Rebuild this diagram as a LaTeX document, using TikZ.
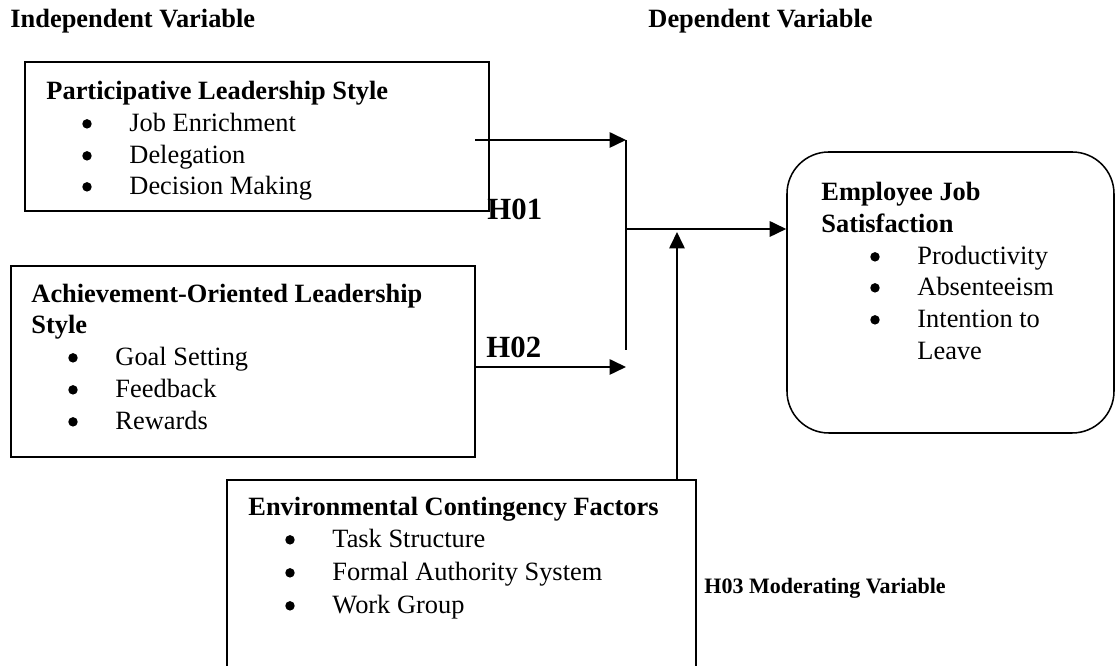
\documentclass[tikz,border=0pt]{standalone}
\usepackage{fontspec}
\setmainfont{Liberation Serif}
\usetikzlibrary{arrows.meta,fit}
\begin{document}
\begin{tikzpicture}[x=0.4545pt,y=-0.4545pt,
  font=\fontsize{12}{14}\selectfont,
  box/.style={draw, line width=0.7pt, inner sep=0pt},
  rbox/.style={box, rounded corners=19pt},
  txt/.style={anchor=base west, inner sep=0pt},
  hd/.style={txt, font=\fontsize{12}{14}\selectfont\bfseries},
  bul/.style={circle, fill, inner sep=0pt, minimum size=4.3pt, yshift=3.7pt},
  hyp/.style={txt, font=\fontsize{14}{16}\selectfont\bfseries},
  conn/.style={line width=0.9pt},
  arr/.style={conn, -{Triangle[length=7.5pt,width=7pt]}}]
\useasboundingbox (0,0) rectangle (1116,666);

% column titles
\node[hd] (indep) at (10,28) {Independent Variable};
\node[hd] (dep) at (648,28) {Dependent Variable};

% boxes
\node[box, fit={(25,62) (489,211)}] (pbox) {};
\node[box, fit={(11,266) (475,457)}] (abox) {};
\node[box, fit={(227,480) (696,680)}] (ebox) {};
\node[rbox, fit={(787,152) (1114,433)}] (jbox) {};

% participative
\node[hd] (ph) at (46,100) {Participative Leadership Style};
\node[bul] (pb1) at (87,132) {}; \node[txt] (pt1) at (129,132) {Job Enrichment};
\node[bul] (pb2) at (87,164) {}; \node[txt] (pt2) at (129,164) {Delegation};
\node[bul] (pb3) at (87,195) {}; \node[txt] (pt3) at (129,195) {Decision Making};

% achievement
\node[hd] (ah1) at (31,303) {Achievement-Oriented Leadership};
\node[hd] (ah2) at (31,334) {Style};
\node[bul] (ab1) at (73,366) {}; \node[txt] (at1) at (115,366) {Goal Setting};
\node[bul] (ab2) at (73,398) {}; \node[txt] (at2) at (115,398) {Feedback};
\node[bul] (ab3) at (73,430) {}; \node[txt] (at3) at (115,430) {Rewards};

% environmental
\node[hd] (eh) at (248,516) {Environmental Contingency Factors};
\node[bul] (eb1) at (290,548) {}; \node[txt] (et1) at (332,548) {Task Structure};
\node[bul] (eb2) at (290,581) {}; \node[txt] (et2) at (332,581) {Formal Authority System};
\node[bul] (eb3) at (290,614) {}; \node[txt] (et3) at (332,614) {Work Group};

% employee job satisfaction
\node[hd] (jh1) at (821,201) {Employee Job};
\node[hd] (jh2) at (821,233) {Satisfaction};
\node[bul] (jb1) at (875,265) {}; \node[txt] (jt1) at (917,265) {Productivity};
\node[bul] (jb2) at (875,296) {}; \node[txt] (jt2) at (917,296) {Absenteeism};
\node[bul] (jb3) at (875,328) {}; \node[txt] (jt3) at (917,328) {Intention to};
\node[txt] (jt4) at (917,360) {Leave};

% hypothesis labels
\node[hyp] (h1) at (487,220) {H01};
\node[hyp] (h2) at (486,358) {H02};
\node[txt, font=\fontsize{10}{12}\selectfont\bfseries] (h3) at (704,594) {H03 Moderating Variable};

% connector points
\coordinate (p1s) at (475,140);
\coordinate (j1) at (626,140);
\coordinate (j2) at (626,350);
\coordinate (jm) at (626,229);
\coordinate (a1s) at (475,367);
\coordinate (a1e) at (626,367);
\coordinate (mtop) at (677,232);
\coordinate (mbot) at (677,480);

\draw[arr] (p1s) -- (j1);
\draw[conn] (j1) -- (j2);
\draw[arr] (a1s) -- (a1e);
\draw[arr] (jm) -- (jbox.west |- jm);
\draw[arr] (mbot) -- (mtop);
\end{tikzpicture}
\end{document}
